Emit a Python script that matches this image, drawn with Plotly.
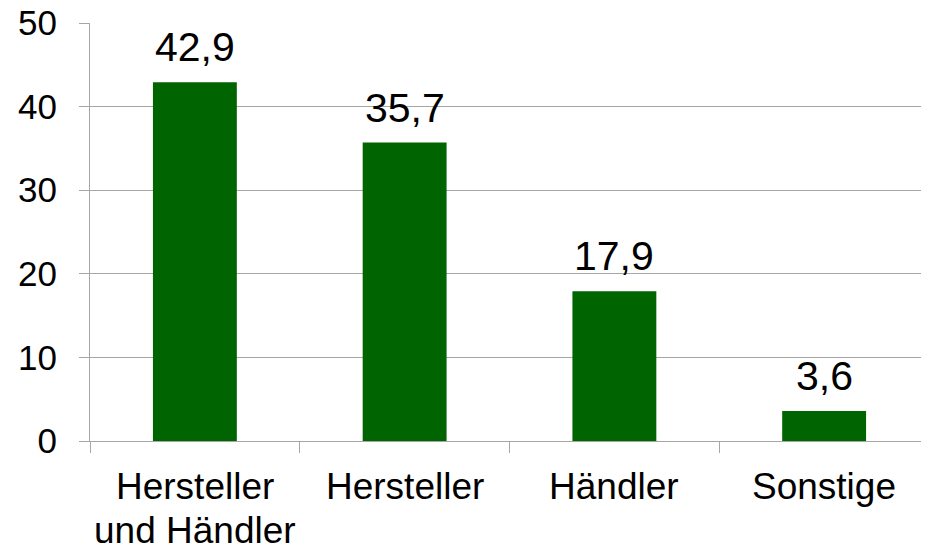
import plotly.graph_objects as go

categories = ["Hersteller<br>und Händler", "Hersteller", "Händler", "Sonstige"]
values = [42.9, 35.7, 17.9, 3.6]
value_labels = ["42,9", "35,7", "17,9", "3,6"]
y_ticks = [0, 10, 20, 30, 40, 50]

FONT = "Liberation Sans, Arial"

fig = go.Figure()
fig.add_trace(go.Bar(
    x=categories, y=values,
    marker=dict(color="#006400", line=dict(width=0)),
    width=0.4,
))

# value labels above bars
for c, v, t in zip(categories, values, value_labels):
    fig.add_annotation(
        x=c, y=v, text=t, showarrow=False,
        xanchor="center", yanchor="bottom", yshift=10,
        font=dict(family=FONT, size=41, color="black"),
    )

# category labels (custom line spacing)
for c in categories:
    for i, line in enumerate(c.split("<br>")):
        fig.add_annotation(
            x=c, y=0, yref="paper", text=line, showarrow=False,
            xanchor="center", yanchor="top", yshift=-23 - 44 * i,
            font=dict(family=FONT, size=37, color="black"),
        )

fig.update_layout(
    width=921, height=535,
    margin=dict(l=82, r=0, t=15, b=102),
    plot_bgcolor="white", paper_bgcolor="white",
    showlegend=False,
    font=dict(family=FONT, size=35, color="black"),
)
fig.update_yaxes(
    range=[0, 50], tickvals=y_ticks,
    showgrid=True, gridcolor="#a6a6a6", gridwidth=1,
    showline=True, linecolor="#a6a6a6", linewidth=1,
    ticks="outside", ticklen=10, tickcolor="#a6a6a6",
    ticklabelstandoff=15,
    ticklabeloverflow="allow",
    zeroline=False,
    tickfont=dict(size=35),
    automargin=False,
)
fig.update_xaxes(
    showline=True, linecolor="#a6a6a6", linewidth=1,
    ticks="outside", ticklen=11, tickcolor="#a6a6a6",
    tickson="boundaries",
    showticklabels=False,
    automargin=False,
)

fig.write_html("out.html")
